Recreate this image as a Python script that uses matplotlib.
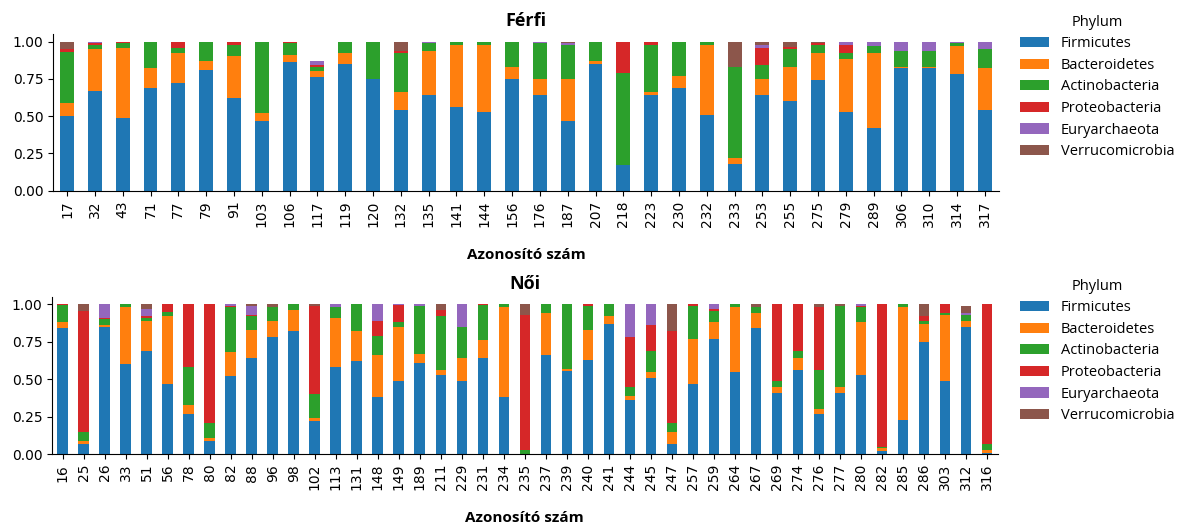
import numpy as np
import matplotlib
matplotlib.use("Agg")
import matplotlib.pyplot as plt

phyla = ["Firmicutes", "Bacteroidetes", "Actinobacteria",
         "Proteobacteria", "Euryarchaeota", "Verrucomicrobia"]
colors = ["#1f77b4", "#ff7f0e", "#2ca02c", "#d62728", "#9467bd", "#8c564b"]

# Férfi
male_ids = ["17", "32", "43", "71", "77", "79", "91", "103", "106", "117",
            "119", "120", "132", "135", "141", "144", "156", "176", "187", "207",
            "218", "223", "230", "232", "233", "253", "255", "275", "279", "289",
            "306", "310", "314", "317"]
male_firm = [.50, .67, .49, .69, .72, .81, .62, .47, .86, .76,
             .85, .75, .54, .64, .56, .53, .75, .64, .47, .85,
             .17, .64, .69, .51, .18, .64, .60, .74, .53, .42,
             .82, .82, .78, .54]
male_bact = [.09, .28, .47, .13, .20, .06, .28, .05, .05, .04,
             .07, 0, .12, .30, .42, .45, .08, .11, .28, .02,
             0, .02, .08, .47, .04, .11, .23, .18, .35, .50,
             .01, .01, .19, .28]
male_actino = [.34, .03, .03, .18, .04, .13, .08, .48, .08, .03,
               .08, .25, .26, .05, .02, .02, .17, .24, .23, .13,
               .62, .32, .23, .02, .61, .09, .12, .06, .04, .05,
               .11, .11, .02, .13]
male_proteo = [.02, .01, .01, 0, .04, 0, .02, 0, .01, .01,
               0, 0, .015, 0, 0, 0, 0, 0, 0, 0,
               .21, .02, 0, 0, 0, .12, .015, .01, .06, 0,
               0, 0, 0, 0]
male_eury = [0, .01, 0, 0, 0, 0, 0, 0, 0, .03,
             0, 0, 0, .01, 0, 0, 0, .01, .01, 0,
             0, 0, 0, 0, 0, .02, 0, 0, .02, .03,
             .06, .06, .01, .05]
male_verru = [.05, 0, 0, 0, 0, 0, 0, 0, 0, 0,
              0, 0, .065, 0, 0, 0, 0, 0, .01, 0,
              0, 0, 0, 0, .17, .02, .035, .01, 0, 0,
              0, 0, 0, 0]

# Női
female_ids = ["16", "25", "26", "33", "51", "56", "78", "80", "82", "88",
              "96", "98", "102", "113", "131", "148", "149", "189", "211", "229",
              "231", "234", "235", "237", "239", "240", "241", "244", "245", "247",
              "257", "259", "264", "267", "269", "274", "276", "277", "280", "282",
              "285", "286", "303", "312", "316"]
female_firm = [.84, .07, .85, .60, .69, .47, .27, .09, .52, .64,
               .78, .82, .22, .58, .62, .38, .49, .61, .53, .49,
               .64, .38, 0, .66, .555, .63, .87, .36, .51, .07,
               .47, .77, .55, .84, .41, .56, .27, .41, .53, .02,
               .23, .75, .49, .85, .01]
female_bact = [.04, .02, .01, .38, .20, .45, .06, .02, .16, .19,
               .11, .14, .02, .33, .20, .28, .36, .06, .03, .15,
               .12, .60, 0, .28, .011, .20, .05, .025, .04, .08,
               .30, .11, .43, .10, .04, .08, .03, .035, .35, .02,
               .755, .12, .44, .04, .02]
female_actino = [.115, .06, .04, .02, .02, .03, .25, .10, .30, .09,
                 .09, .04, .16, .07, .18, .13, .03, .32, .36, .21,
                 .235, .02, .03, .06, .434, .16, .08, .065, .14, .06,
                 .22, .075, .02, .045, .04, .05, .26, .545, .10, .01,
                 .015, .02, .01, .04, .04]
female_proteo = [.005, .805, .01, 0, .01, .05, .42, .79, .01, .01,
                 0, 0, .59, 0, 0, .10, .115, 0, .04, 0,
                 .005, 0, .90, 0, 0, .01, 0, .33, .17, .61,
                 .01, .015, 0, 0, .51, .31, .425, 0, .01, .95,
                 0, .03, .06, 0, .93]
female_eury = [0, 0, .09, 0, .05, 0, 0, 0, .01, .06,
               0, 0, 0, .02, 0, .11, .005, .01, 0, .15,
               0, 0, 0, 0, 0, 0, 0, .22, .14, 0,
               0, .03, 0, 0, 0, 0, 0, 0, .01, 0,
               0, 0, 0, .01, 0]
female_verru = [0, .045, 0, 0, .03, 0, 0, 0, 0, .01,
                .02, 0, .01, 0, 0, 0, 0, 0, .04, 0,
                0, 0, .07, 0, 0, 0, 0, 0, 0, .18,
                0, 0, 0, .015, 0, 0, .015, .01, 0, 0,
                0, .08, 0, .05, 0]

male = [male_firm, male_bact, male_actino, male_proteo, male_eury, male_verru]
female = [female_firm, female_bact, female_actino, female_proteo, female_eury, female_verru]

label_font = "Open Sans"

fig = plt.figure(figsize=(11.82, 5.28), dpi=100)
ax1 = fig.add_axes([0.045, 0.639, 0.800, 0.2964])
ax2 = fig.add_axes([0.044, 0.140, 0.800, 0.2977])


def draw(ax, ids, series, title, legend_y):
    x = np.arange(len(ids))
    bottom = np.zeros(len(ids))
    handles = []
    for vals, name, col in zip(series, phyla, colors):
        vals = np.array(vals)
        h = ax.bar(x, vals, 0.5, bottom=bottom, color=col, label=name)
        handles.append(h)
        bottom += vals
    ax.set_xlim(-0.5, len(ids) - 0.5)
    ax.set_ylim(0, 1.05)
    ax.set_yticks([0, .25, .5, .75, 1.0])
    ax.set_yticklabels(["0.00", "0.25", "0.50", "0.75", "1.00"], fontsize=10)
    ax.set_xticks(x)
    ax.set_xticklabels(ids, rotation=90, fontsize=10)
    ax.spines["top"].set_visible(False)
    ax.spines["right"].set_visible(False)
    ax.set_title(title, fontsize=13, fontweight="bold", family=label_font, pad=6)
    ax.set_xlabel("Azonosító szám", fontsize=11, fontweight="bold",
                  family=label_font, labelpad=15)
    fig.legend(handles, phyla, title="Phylum", loc="upper left",
               bbox_to_anchor=(0.852, legend_y), frameon=False,
               prop={"family": label_font, "size": 10.5},
               title_fontproperties={"family": label_font, "size": 10.5},
               handlelength=2.0, handleheight=0.7, labelspacing=0.45)


draw(ax1, male_ids, male, "Férfi", 0.997)
draw(ax2, female_ids, female, "Női", 0.497)

fig.savefig("out.png", dpi=100)
